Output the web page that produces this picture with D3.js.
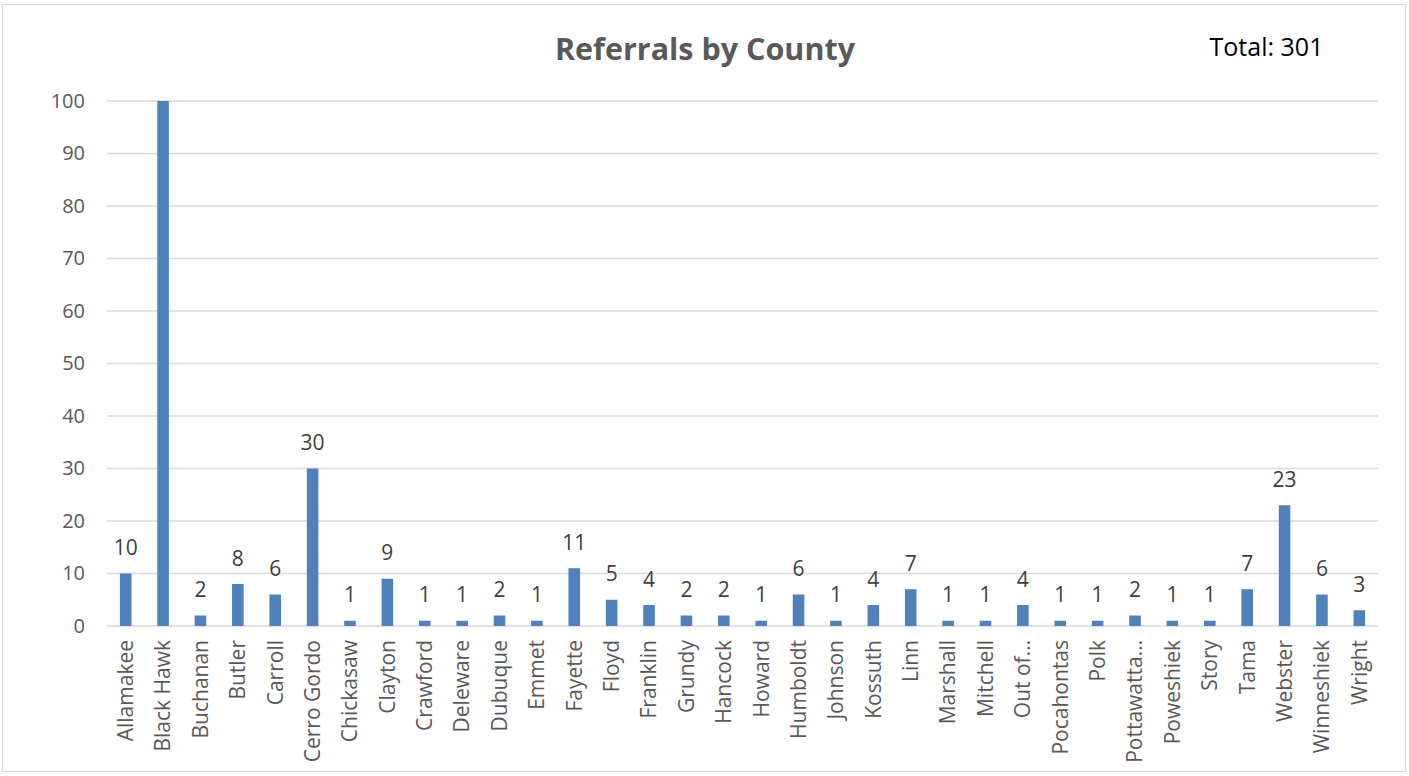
<!DOCTYPE html>
<html><head><meta charset="utf-8">
<script src="https://cdn.jsdelivr.net/npm/d3@7"></script>
<style>body{margin:0;background:#fff}svg{display:block}</style>
</head><body>
<script>
const counties = ["Allamakee","Black Hawk","Buchanan","Butler","Carroll","Cerro Gordo","Chickasaw","Clayton","Crawford","Deleware","Dubuque","Emmet","Fayette","Floyd","Franklin","Grundy","Hancock","Howard","Humboldt","Johnson","Kossuth","Linn","Marshall","Mitchell","Out of…","Pocahontas","Polk","Pottawatta…","Poweshiek","Story","Tama","Webster","Winneshiek","Wright"];
const referrals = [10,136,2,8,6,30,1,9,1,1,2,1,11,5,4,2,2,1,6,1,4,7,1,1,4,1,1,2,1,1,7,23,6,3];
const yTicks = [0,10,20,30,40,50,60,70,80,90,100];
const titleText = "Referrals by County";
const totalText = "Total: 301";

const W = 1409, H = 776;
const font = "'Open Sans', sans-serif";
const svg = d3.select("body").append("svg").attr("width", W).attr("height", H);
svg.append("rect").attr("x",2.5).attr("y",4.5).attr("width",1403).attr("height",767)
  .attr("fill","#fff").attr("stroke","#d9d9d9").attr("stroke-width",1);

const m = {left:107, right:1378, top:101, bottom:626};
const x = d3.scaleBand().domain(counties).range([m.left, m.right]).paddingInner(0.69).paddingOuter(0.345);
const y = d3.scaleLinear().domain([0,100]).range([m.bottom, m.top]);
const data = counties.map((c,i)=>({c, v: referrals[i]}));

// gridlines
svg.append("g").selectAll("line").data(yTicks).join("line")
  .attr("x1", m.left).attr("x2", m.right)
  .attr("y1", d=>y(d)).attr("y2", d=>y(d))
  .attr("stroke","#d9d9d9").attr("stroke-width",1.5);

// y axis labels
const yAxis = d3.axisLeft(y).tickValues(yTicks).tickSize(0).tickPadding(22);
const gy = svg.append("g").attr("transform",`translate(${m.left},0)`).call(yAxis);
gy.select(".domain").remove();
gy.selectAll("text").attr("font-family",font).attr("font-size",20).attr("fill","#595959");

svg.append("clipPath").attr("id","clip").append("rect")
  .attr("x",m.left).attr("y",m.top).attr("width",m.right-m.left).attr("height",m.bottom-m.top);

// bars
svg.append("g").attr("clip-path","url(#clip)").selectAll("rect").data(data).join("rect")
  .attr("x",d=>x(d.c)).attr("width",x.bandwidth())
  .attr("y",d=>y(d.v)).attr("height",d=>y(0)-y(d.v))
  .attr("fill","#4f81bd");

// value labels (hidden if out of range)
svg.append("g").selectAll("text").data(data.filter(d=>d.v<=100)).join("text")
  .attr("x",d=>x(d.c)+x.bandwidth()/2)
  .attr("y",d=>y(d.v)-18.5)
  .attr("text-anchor","middle")
  .attr("font-family",font).attr("font-size",21).attr("fill","#404040")
  .text(d=>d.v);

// x axis
const xAxis = d3.axisBottom(x).tickSize(0).tickPadding(0);
const gx = svg.append("g").attr("transform",`translate(0,${m.bottom})`).call(xAxis);
gx.select(".domain").remove();
gx.selectAll("text")
  .attr("font-family",font).attr("font-size",21).attr("fill","#595959")
  .attr("transform","rotate(-90)")
  .attr("text-anchor","end")
  .attr("x",-14).attr("y",0).attr("dy","0.35em");

// title
svg.append("text").attr("x",705).attr("y",60).attr("text-anchor","middle")
  .attr("font-family",font).attr("font-size",30.5).attr("font-weight","bold").attr("fill","#595959")
  .text(titleText);
svg.append("text").attr("x",1266.5).attr("y",56).attr("text-anchor","middle")
  .attr("font-family",font).attr("font-size",25).attr("fill","#000")
  .text(totalText);
</script>
</body></html>
